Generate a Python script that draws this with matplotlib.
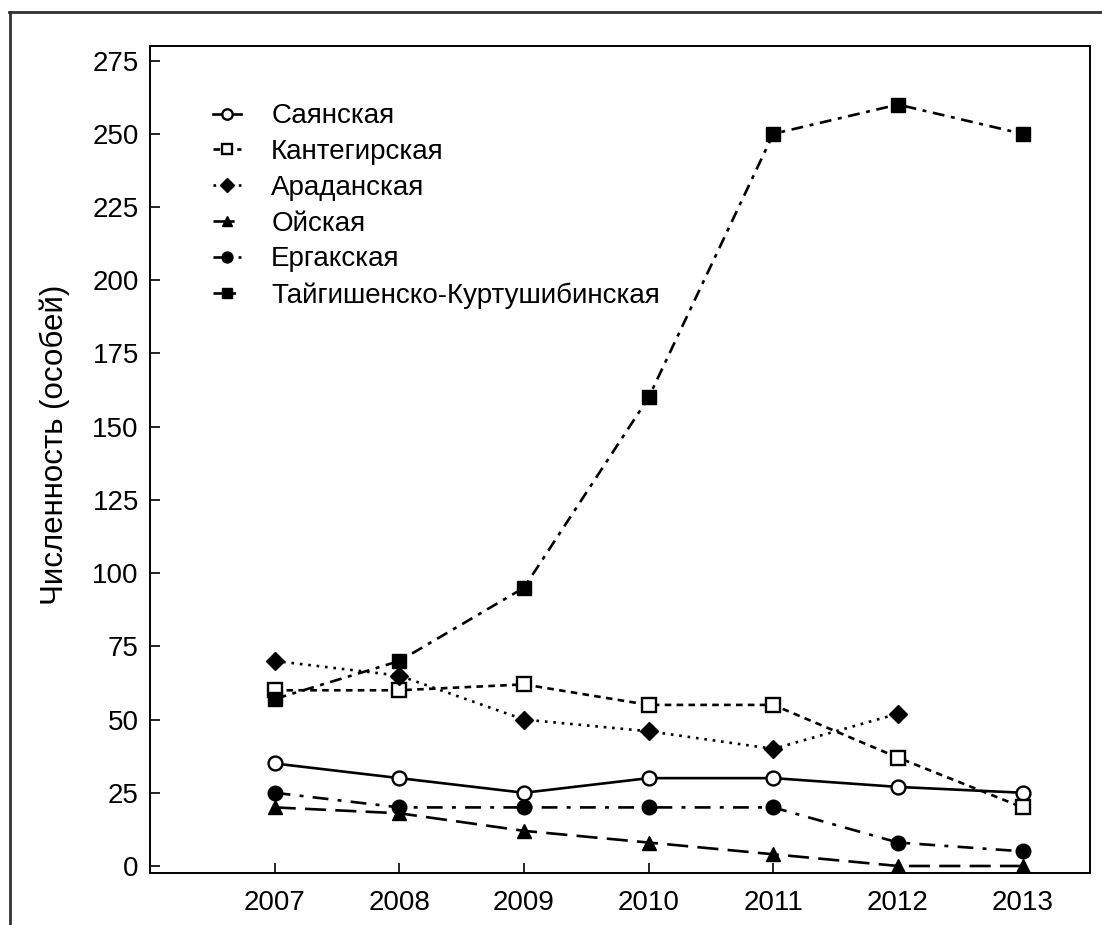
import numpy as np
import matplotlib
matplotlib.use("Agg")
import matplotlib.pyplot as plt
from matplotlib.lines import Line2D

plt.rcParams['font.family'] = ['Liberation Sans', 'DejaVu Sans']

years = [2007, 2008, 2009, 2010, 2011, 2012, 2013]
sayan = [35, 30, 25, 30, 30, 27, 25]
kanteg = [60, 60, 62, 55, 55, 37, 20]
aradan = [70, 65, 50, 46, 40, 52, np.nan]
oisk = [20, 18, 12, 8, 4, 0, 0]
ergak = [25, 20, 20, 20, 20, 8, 5]
taigish = [57, 70, 95, 160, 250, 260, 250]

fig = plt.figure(figsize=(11.02, 9.25), dpi=100)
ax = fig.add_axes([0.1361, 0.0562, 0.853, 0.8941])

lw = 1.9
ax.plot(years, sayan, color='black', lw=lw, ls='-', marker='o', ms=10,
        mfc='white', mec='black', mew=1.7, label='Саянская')
ax.plot(years, kanteg, color='black', lw=lw, ls=(0, (2.5, 2)), marker='s', ms=10,
        mfc='white', mec='black', mew=1.7, label='Кантегирская')
ax.plot(years, aradan, color='black', lw=lw, ls=(0, (1, 2.2)), marker='D', ms=9,
        mfc='black', mec='black', label='Араданская')
ax.plot(years, oisk, color='black', lw=lw, ls=(0, (8, 3.5)), marker='^', ms=10.5,
        mfc='black', mec='black', label='Ойская')
ax.plot(years, ergak, color='black', lw=lw, ls=(0, (6, 3.5, 1.5, 3.5)), marker='o', ms=10.5,
        mfc='black', mec='black', label='Ергакская')
ax.plot(years, taigish, color='black', lw=lw, ls=(0, (4.5, 2.5, 1.5, 2.5)), marker='s', ms=10.5,
        mfc='black', mec='black', label='Тайгишенско-Куртушибинская')

ax.set_xlim(2006.0, 2013.54)
ax.set_ylim(-2.4, 280)
ax.set_xticks(years)
ax.set_yticks(np.arange(0, 276, 25))
ax.tick_params(direction='in', length=7, width=1.2, labelsize=20, colors='black')
ax.tick_params(axis='x', pad=12)
ax.tick_params(axis='y', pad=8)
for s in ax.spines.values():
    s.set_linewidth(1.4)
ax.set_ylabel('Численность (особей)', fontsize=22.5)
ax.yaxis.set_label_coords(-0.085, 0.518)

ax.legend(loc='upper left', bbox_to_anchor=(0.055, 0.944), frameon=False,
          fontsize=20, handlelength=1.0, handletextpad=1.1, labelspacing=0.35,
          markerscale=0.75, borderaxespad=0)

# outer frame (top and left)
fig.add_artist(Line2D([0.008, 1.0], [0.987, 0.987], color='#333333', lw=2,
                      transform=fig.transFigure))
fig.add_artist(Line2D([0.009, 0.009], [0.0, 0.987], color='#333333', lw=2,
                      transform=fig.transFigure))

fig.savefig('out.png', dpi=100)
